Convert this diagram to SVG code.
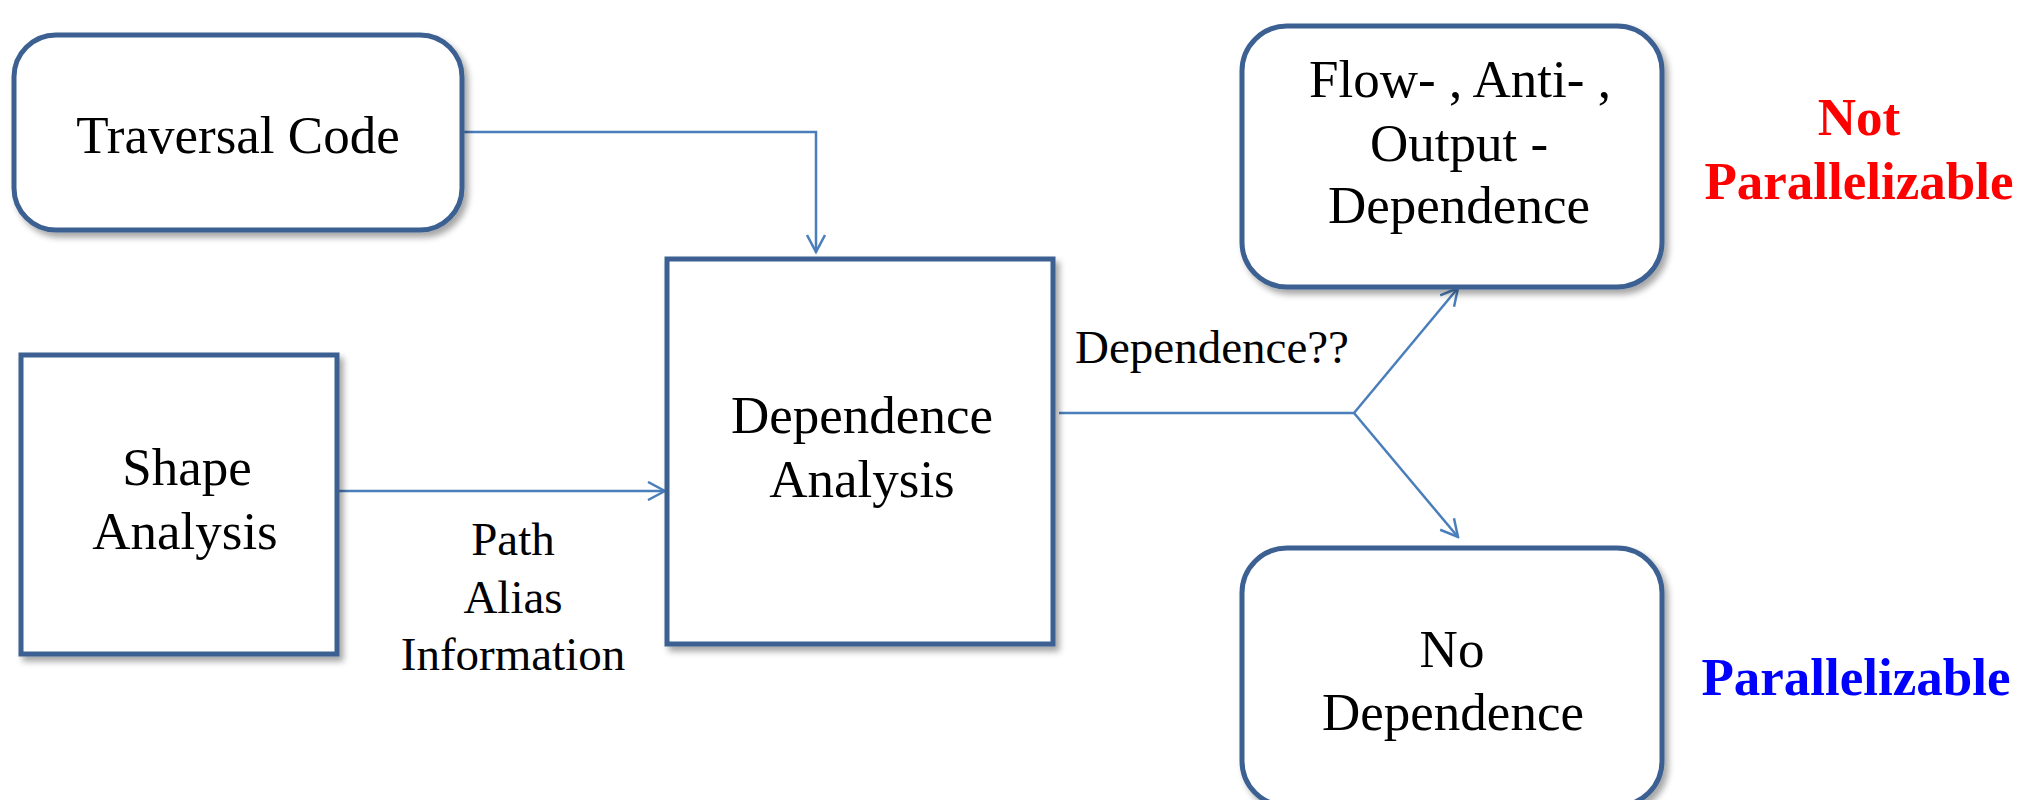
<svg xmlns="http://www.w3.org/2000/svg" width="2022" height="800" viewBox="0 0 2022 800">
<style>
.box{fill:#ffffff;stroke:#3c6192;stroke-width:5;filter:url(#sh)}
.conn{fill:none;stroke:#4a7ebb;stroke-width:2.5}
</style>
<defs>
<filter id="sh" x="-10%" y="-10%" width="125%" height="125%">
<feDropShadow dx="4" dy="5" stdDeviation="3" flood-color="#000" flood-opacity="0.35"/>
</filter>
<marker id="arr" viewBox="0 0 20 20" refX="18" refY="10" markerWidth="20" markerHeight="20" markerUnits="userSpaceOnUse" orient="auto">
<path d="M1,1 L18,10 L1,19" fill="none" stroke="#4a7ebb" stroke-width="2.5"/>
</marker>
</defs>
<rect width="2022" height="800" fill="#fff"/>
<g id="connectors">
<path class="conn" d="M464,132 H816 V252" marker-end="url(#arr)"/>
<path class="conn" d="M338,491 H665" marker-end="url(#arr)"/>
<path class="conn" d="M1059,413 H1354"/>
<path class="conn" d="M1354,413 L1458,288" marker-end="url(#arr)"/>
<path class="conn" d="M1354,413 L1458,537" marker-end="url(#arr)"/>
</g>
<g font-family="Liberation Serif, serif" font-size="53" text-anchor="middle" fill="#000">
<g id="traversal">
<rect class="box" x="14" y="35" width="448" height="195" rx="42"/>
<text x="238" y="153">Traversal Code</text>
</g>
<g id="shape">
<rect class="box" x="21" y="355" width="316" height="299"/>
<text x="187" y="485">Shape</text>
<text x="185" y="549">Analysis</text>
</g>
<g id="dependence">
<rect class="box" x="667" y="259" width="386" height="385"/>
<text x="862" y="433">Dependence</text>
<text x="862" y="497">Analysis</text>
</g>
<g id="labels" font-size="47">
<text x="513" y="555">Path</text>
<text x="513" y="613">Alias</text>
<text x="513" y="670">Information</text>
<text x="1212" y="363">Dependence??</text>
</g>
<g id="flow">
<rect class="box" x="1242" y="26" width="420" height="261" rx="45"/>
<text x="1460" y="97">Flow- , Anti- ,</text>
<text x="1459" y="161">Output -</text>
<text x="1459" y="223">Dependence</text>
</g>
<g id="nodep">
<rect class="box" x="1242" y="548" width="420" height="258" rx="45"/>
<text x="1452" y="667">No</text>
<text x="1453" y="730">Dependence</text>
</g>
<g id="results" font-weight="bold">
<text x="1859" y="135" fill="#ff0000">Not</text>
<text x="1859" y="199" fill="#ff0000">Parallelizable</text>
<text x="1856" y="695" fill="#0000ff">Parallelizable</text>
</g>
</g>
</svg>
